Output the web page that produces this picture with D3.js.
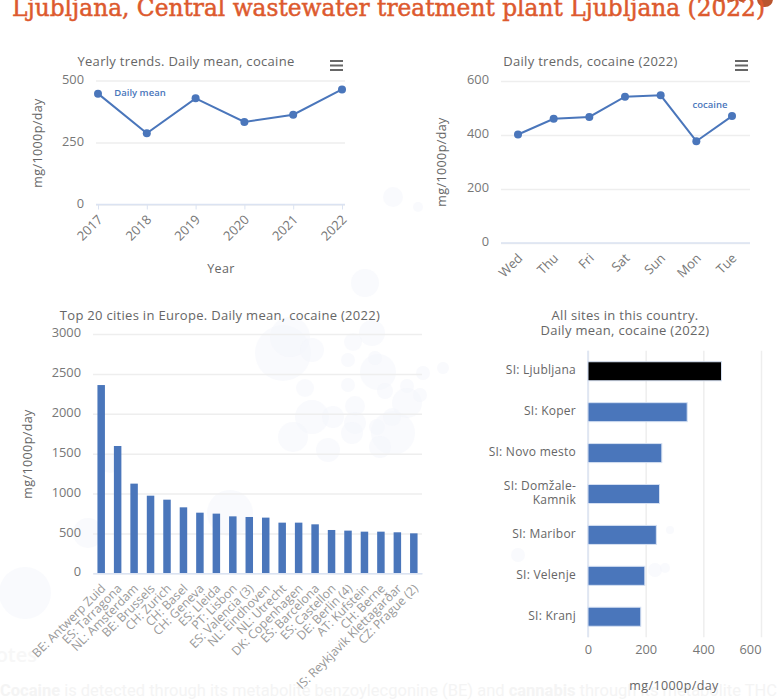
<!DOCTYPE html>
<html>
<head>
<meta charset="utf-8">
<title>Ljubljana, cocaine (2022)</title>
<script src="https://cdn.jsdelivr.net/npm/d3@7"></script>
<style>
    html, body { margin: 0; padding: 0; background: #fff; overflow: hidden; }
    text { font-family: "Open Sans", sans-serif; }
</style>
</head>
<body>
<svg id="page" width="780" height="700"></svg>
<script>
var years = ["2017", "2018", "2019", "2020", "2021", "2022"];
var yearValues = [447, 287, 428, 333, 362, 464];

var days = ["Wed", "Thu", "Fri", "Sat", "Sun", "Mon", "Tue"];
var dayValues = [402, 460, 467, 542, 547, 377, 470];

var cities = ["BE: Antwerp Zuid", "ES: Tarragona", "NL: Amsterdam", "BE: Brussels", "CH: Zurich",
    "CH: Basel", "CH: Geneva", "ES: Lleida", "PT: Lisbon", "ES: Valencia (3)", "NL: Eindhoven",
    "NL: Utrecht", "DK: Copenhagen", "ES: Barcelona", "ES: Castellon", "DE: Berlin (4)",
    "AT: Kufstein", "CH: Berne", "IS: Reykjavik Klettagarðar", "CZ: Prague (2)"];
var cityValues = [2360, 1596, 1124, 973, 923, 827, 760, 748, 714, 706, 698, 635, 635, 614, 543, 535, 522, 522, 514, 501];

var sites = ["SI: Ljubljana", "SI: Koper", "SI: Novo mesto", "SI: Domžale-|Kamnik", "SI: Maribor", "SI: Velenje", "SI: Kranj"];
var siteValues = [463, 344, 256, 248, 237, 197, 183];

// faint map bubbles behind the charts, page decoration only
var backdrop = [[283, 353, 28], [290, 337, 20], [312, 350, 12], [372, 333, 13], [353, 342, 9], [348, 360, 7],
    [378, 372, 18], [375, 358, 7], [305, 388, 9], [348, 385, 7], [407, 386, 7], [385, 391, 8], [312, 417, 17],
    [293, 437, 15], [333, 417, 11], [355, 406, 10], [355, 423, 11], [328, 450, 12], [352, 433, 11], [377, 427, 8],
    [393, 433, 22], [380, 447, 11], [407, 403, 15], [420, 395, 7], [423, 373, 7], [392, 417, 9],
    [25, 593, 26], [88, 533, 15], [230, 513, 23], [110, 463, 10], [443, 368, 6], [393, 197, 10], [418, 207, 5],
    [365, 283, 14], [670, 530, 4], [518, 555, 7], [655, 570, 7], [665, 568, 5]];
var crownDots = [[720, -3, 5], [731, -3, 5], [742, -3, 5], [765, -1, 8]];

var textColor = "#666666";
var tickColor = "#777777";
var gridColor = "#eeeeee";
var axisColor = "#dbe3f2";
var barColor = "#4a76bb";

var svg = d3.select("#page");

svg.append("g").selectAll("circle")
    .data(backdrop)
    .enter().append("circle")
    .attr("cx", function(d) { return d[0]; })
    .attr("cy", function(d) { return d[1]; })
    .attr("r", function(d) { return d[2]; })
    .attr("fill", "#f3f6fc")
    .attr("fill-opacity", 0.5);

// page text fading out under the charts
svg.append("text").attr("x", -20).attr("y", 662)
    .attr("font-size", 20).attr("font-weight", 600).attr("fill", "#f7f7f7").text("Notes");
svg.append("text").attr("x", 0).attr("y", 696)
    .style("font-family", "Roboto, sans-serif")
    .attr("font-size", 16.5).attr("fill", "#f4f4f4")
    .html('<tspan font-weight="700">Cocaine</tspan> is detected through its metabolite benzoylecgonine (BE) and <tspan font-weight="700">cannabis</tspan> through its metabolite THC');

svg.append("g").selectAll("circle")
    .data(crownDots)
    .enter().append("circle")
    .attr("cx", function(d) { return d[0]; })
    .attr("cy", function(d) { return d[1]; })
    .attr("r", function(d) { return d[2]; })
    .attr("fill", "#b9562f");

svg.append("text")
    .attr("x", 12).attr("y", 16)
    .attr("font-size", 24)
    .attr("textLength", 753)
    .attr("lengthAdjust", "spacingAndGlyphs")
    .style("font-family", '"DejaVu Serif", serif')
    .attr("fill", "#dd5a2e")
    .attr("stroke", "#dd5a2e")
    .attr("stroke-width", 0.5)
    .text("Ljubljana, Central wastewater treatment plant Ljubljana (2022)");

function chartTitle(x, y, lines) {
    lines.forEach(function(line, i) {
        svg.append("text")
            .attr("x", x).attr("y", y + i * 15)
            .attr("text-anchor", "middle")
            .attr("font-size", 13)
            .attr("letter-spacing", 0.3)
            .attr("fill", textColor)
            .text(line);
    });
}

function axisTitle(x, y, rotate, label) {
    svg.append("text")
        .attr("transform", "translate(" + x + "," + y + ") rotate(" + rotate + ")")
        .attr("text-anchor", "middle")
        .attr("font-size", 12.5)
        .attr("letter-spacing", 0.4)
        .attr("fill", textColor)
        .text(label);
}

function menuIcon(x, y) {
    [0, 4.5, 9].forEach(function(offset) {
        svg.append("line")
            .attr("x1", x).attr("x2", x + 13)
            .attr("y1", y + offset).attr("y2", y + offset)
            .attr("stroke", "#666")
            .attr("stroke-width", 2);
    });
}

function valueAxis(scale, left, right, ticks) {
    var g = svg.append("g")
        .attr("transform", "translate(" + left + ",0)")
        .call(d3.axisLeft(scale).tickValues(ticks).tickFormat(d3.format("d")).tickSize(left - right));
    g.select(".domain").remove();
    g.selectAll(".tick line").attr("stroke", gridColor).attr("stroke-width", 1.5);
    g.selectAll(".tick text")
        .attr("x", -12)
        .attr("y", -1.5)
        .attr("font-size", 12.8)
        .style("font-family", '"Open Sans", sans-serif')
        .attr("fill", tickColor);
    return g;
}

function slantedLabels(g, size, color) {
    g.selectAll(".tick text")
        .attr("text-anchor", "end")
        .attr("font-size", size)
        .style("font-family", '"Open Sans", sans-serif')
        .attr("fill", color)
        .attr("dx", 0)
        .attr("dy", 0)
        .attr("y", 0)
        .attr("x", 0)
        .attr("transform", "translate(5,16) rotate(-45)");
}

function lineChart(cfg) {
    var x = d3.scalePoint().domain(cfg.labels).range(cfg.xRange);
    var y = d3.scaleLinear().domain([0, cfg.max]).range(cfg.yRange);
    valueAxis(y, cfg.left, cfg.right, cfg.ticks);

    var g = svg.append("g")
        .attr("transform", "translate(0," + cfg.yRange[0] + ")")
        .call(d3.axisBottom(x).tickSize(cfg.tickLen).tickSizeOuter(0));
    g.select(".domain").remove();
    g.append("line").attr("x1", cfg.left).attr("x2", cfg.right)
        .attr("stroke", axisColor).attr("stroke-width", 1.5);
    g.selectAll(".tick line").attr("stroke", axisColor).attr("stroke-width", 1);
    slantedLabels(g, 13, tickColor);

    var line = d3.line()
        .x(function(d, i) { return x(cfg.labels[i]); })
        .y(function(d) { return y(d); });
    svg.append("path")
        .attr("d", line(cfg.values))
        .attr("fill", "none")
        .attr("stroke", barColor)
        .attr("stroke-width", 2);
    svg.append("g").selectAll("circle")
        .data(cfg.values)
        .enter().append("circle")
        .attr("cx", function(d, i) { return x(cfg.labels[i]); })
        .attr("cy", function(d) { return y(d); })
        .attr("r", 4)
        .attr("fill", barColor);

    svg.append("text")
        .attr("x", cfg.seriesLabel[0]).attr("y", cfg.seriesLabel[1])
        .attr("text-anchor", "middle")
        .attr("font-size", 9.5)
        .attr("font-weight", 600)
        .attr("fill", barColor)
        .text(cfg.seriesLabel[2]);
}

/* Yearly trends */
chartTitle(186, 66, ["Yearly trends. Daily mean, cocaine"]);
menuIcon(330, 61);
lineChart({
    labels: years, values: yearValues, max: 500, ticks: [0, 250, 500],
    xRange: [98, 342], yRange: [204.5, 80.5], left: 96, right: 345, tickLen: 5,
    seriesLabel: [140, 96, "Daily mean"]
});
axisTitle(42, 143, -90, "mg/1000p/day");
axisTitle(221, 273, 0, "Year");

/* Daily trends */
chartTitle(590.5, 66, ["Daily trends, cocaine (2022)"]);
menuIcon(735, 61);
lineChart({
    labels: days, values: dayValues, max: 600, ticks: [0, 200, 400, 600],
    xRange: [518, 732], yRange: [243, 81], left: 501, right: 750, tickLen: 0,
    seriesLabel: [710, 108, "cocaine"]
});
axisTitle(446, 162, -90, "mg/1000p/day");

/* Top 20 cities */
chartTitle(220, 320, ["Top 20 cities in Europe. Daily mean, cocaine (2022)"]);
var cityX = d3.scaleBand().domain(cities).range([93, 422]).paddingInner(0.545).paddingOuter(0.27);
var cityY = d3.scaleLinear().domain([0, 3000]).range([573.3, 334]);
valueAxis(cityY, 93, 422, [0, 500, 1000, 1500, 2000, 2500, 3000]);
svg.append("g").selectAll("rect")
    .data(cityValues)
    .enter().append("rect")
    .attr("x", function(d, i) { return cityX(cities[i]); })
    .attr("y", function(d) { return cityY(d); })
    .attr("width", cityX.bandwidth())
    .attr("height", function(d) { return cityY(0) - cityY(d); })
    .attr("fill", barColor);
var cityAxis = svg.append("g")
    .attr("transform", "translate(0,573.3)")
    .call(d3.axisBottom(cityX).tickSize(0));
cityAxis.select(".domain").attr("stroke", axisColor).attr("stroke-width", 1.5);
slantedLabels(cityAxis, 12.2, "#999999");
axisTitle(32, 454, -90, "mg/1000p/day");

/* All sites */
chartTitle(625, 320, ["All sites in this country.", "Daily mean, cocaine (2022)"]);
var siteX = d3.scaleLinear().domain([0, 600]).range([588, 761]);
var siteY = d3.scaleBand().domain(sites).range([350.7, 637.3]).paddingInner(0.535).paddingOuter(0.27);
var siteGrid = svg.append("g")
    .attr("transform", "translate(0,637.3)")
    .call(d3.axisBottom(siteX).tickValues([0, 200, 400, 600]).tickSize(350.7 - 637.3).tickPadding(0));
siteGrid.select(".domain").remove();
siteGrid.selectAll(".tick line").attr("stroke", gridColor).attr("stroke-width", 1.5);
siteGrid.selectAll(".tick text")
    .attr("y", 8)
    .attr("font-size", 12.8)
    .style("font-family", '"Open Sans", sans-serif')
    .attr("fill", tickColor);
// the last label is pulled inside the plot edge
siteGrid.selectAll(".tick:last-of-type text").attr("text-anchor", "end");
svg.append("line")
    .attr("x1", siteX(0)).attr("x2", siteX(0))
    .attr("y1", 350.7).attr("y2", 637.3)
    .attr("stroke", axisColor).attr("stroke-width", 1.5);
svg.append("g").selectAll("rect")
    .data(siteValues)
    .enter().append("rect")
    .attr("x", siteX(0))
    .attr("y", function(d, i) { return siteY(sites[i]); })
    .attr("width", function(d) { return siteX(d) - siteX(0); })
    .attr("height", siteY.bandwidth())
    .attr("fill", function(d, i) { return i === 0 ? "#000000" : barColor; })
    .attr("stroke", "#d5e0f2")
    .attr("stroke-width", 1);
sites.forEach(function(site) {
    var parts = site.split("|");
    var mid = siteY(site) + siteY.bandwidth() / 2;
    parts.forEach(function(part, i) {
        svg.append("text")
            .attr("x", 576)
            .attr("y", mid + 3 + (i - (parts.length - 1) / 2) * 14)
            .attr("text-anchor", "end")
            .attr("font-size", 12)
            .attr("letter-spacing", 0.25)
            .attr("fill", "#666666")
            .text(part);
    });
});
axisTitle(674, 690, 0, "mg/1000p/day");
</script>
</body>
</html>
